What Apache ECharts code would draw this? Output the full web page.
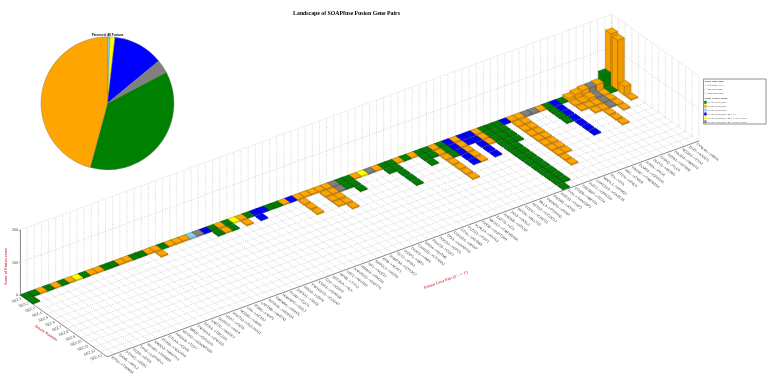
<!DOCTYPE html>
<html><head><meta charset="utf-8">
<style>html,body{margin:0;padding:0;background:#fff}#c{width:774px;height:383px}</style>
<script src="https://cdn.jsdelivr.net/npm/echarts@6/dist/echarts.min.js"></script>
</head><body><div id="c"></div>
<script>
const chartTitle = "Landscape of SOAPfuse Fusion Gene Pairs";
const pieTitle = "Percent of All Fusions";
const classColors = ["#008000","#FFA500","#87CEEB","#0000FF","#FFFF00","#808080"];
const classNames = ["SV:SEZ;SJE;SJL","SV:SEZ;SJR;SJL","SV:SEZ;SJR;SPL","SV:SEZ;SJR;SJL:MAX3","SV:SEZ;SJR;SJL:MAX3:CUTOUT","SV:SEZ;SJR;SJL:MAX5:CUTOUT"];
const pieOrder = [2,4,3,5,0,1];
const pieValues = [0.6,1.2,12.2,3.3,36.9,45.8];
const filterTags = ["reference-GVI","one-overedge","both-overedge"];
const patientLabels = ["SEZ.1","SEZ.2","SEZ.3","SEZ.4","SEZ.5","SEZ.6","SEZ.7","SEZ.8","SEZ.9","SEZ.10","SEZ.11","SEZ.12","SEZ.13"];
const scoreTicks = [0,100,200];
const G=0,O=1,S=2,B=3,Y=4,A=5;
const geneClass = [G,G,O,G,O,G,O,Y,G,O,O,G,G,O,O,G,G,O,O,G,O,O,O,S,A,
  B,G,O,G,Y,O,G,B,B,G,G,O,B,O,O,O,O,O,A,G,G,O,Y,A,O,
  G,G,O,G,O,G,G,O,G,B,O,B,B,O,G,G,G,B,O,O,A,A,O,G,B,G,O,O,O,A,O,G,O];
const f=3;
const geneScores = [[f,f],[f],[f],[f],[f],[f],[f],[f],[f],[f],[f],[f],[f],[f],[f],[f],[f],[f],[f,f],[f],[f],[f],[f],[f],[f],
  [f],[f,f],[f,f],[f,f],[f],[f,f],[f],[f,f],[f],[f],[f],[f],[f],[f,f,f,f],[f],[f],[f,f,f,f],[f,f,f,f,f],[f,f],[f,f],[f,f,f],[f],[f],[f],[f],
  [f,f],[f,f,f,f,f],[f],[f],[f],[f,f,f],[f,f],[f,f,f,f,f,f,f],[f,f,f],[f,f,f,f,f],[f,f,f,f,f],[f,f],[f,f,f,f,f],[f,f,f],
  [f,f,f,f,f,f,f,f,f,f,f,f,f],[f,f,f,f,f,f,f,f,f,f,f,f],[f,f,f,f],[f],[f,f,f,f,f,f,f,f,f,f],[f,f,f,f,f,f,f,f],[f],[f],[f],[f,f,f,f],[f,f,f,f,f,f,f],[f],
  [9,f,f],[14,f,f,f],[18,9,f,f,f,f,f],[18,f,f,f],[20,f,f,f,f],[42,f],[160,155,27,f]];
const genePairs = ["RPS6-->TRIM33","TIAM1-->BCL2","PTPRC-->ZEB1","CD28-->ICOS","TP63-->LEPREL1","NFKB2-->TRIM39","SMAD3-->MAP2K1","ATP5B-->NDUFA4","CTLA4-->CD28","ARID1B-->TCF7",
"MYO1F-->ADAMTS10","MBD2-->GPR125","TNFSF14-->ZNF101","CCR4-->TBC1D5","KMT2C-->BAGE2","DUSP22-->IRF4","USP7-->CIITA","RNF213-->SLC26A11","NCOR1-->UBR5","FAS-->ACTA2",
"ITGB1-->NRP1","LAPTM5-->MATN1","SPTAN1-->WDR34","TMEM66-->ASH2L","HNRNPC-->RALY","PKM2-->CD74","ZNF521-->SS18","RHOA-->USP4","TNFRSF21-->CD2AP","STAT3-->STAT5B",
"CD2-->IGSF3","SEC31A-->ALK","NPM1-->TYK2","VAV1-->MYO1F","ANKRD11-->ZNF276","RBM14-->PACS1","NF1-->SUZ12","SIPA1L1-->RGS6","ATM-->ACAT1","DNMT3A-->GTF3C2",
"TET2-->PPA2","FOXP1-->MITF","TRAF3-->AMN","CARD11-->CTNNA1","BRD4-->NUTM1","PRKCB-->CD22","PDCD1-->GPC1","TP53-->KIAA0753","CDKN2A-->MTAP","ETV6-->ACSM3",
"PLCG1-->TOP1","KLHL14-->ASXL3","CHD8-->SUPT16H","MED12-->TMEM255A","ZAP70-->LCK","ARID5B-->RTKN2","JAK3-->INSL3","BCOR-->MLLT10","CD247-->CREG1","SETD2-->CCDC12",
"MLL3-->PTPRN2","TNFAIP3-->PERP","PRDM1-->ATG5","SOCS1-->TNP2","FYN-->TRAF3IP2","EP300-->MRTFA","CREBBP-->TCF4","IKZF2-->SPAG16","LRRC16A-->CASC15","MAPK1-->PPM1F",
"ITK-->SYK","PTEN-->RNLS","RB1-->ITM2B","FBXW7-->TMEM154","ELMO1-->GPR141","RARA-->PKIA","DLEU1-->BCMS","GNAQ-->TLE4","SATB1-->KCNH8","PIK3R1-->MAST4",
"NCOA3-->EYA2","ZFAT-->ASAP1","TXNL4A-->RBFA"];

const cellColumn=[],cellRow=[],cellScore=[];
for(let c=geneScores.length-1;c>=0;c--) geneScores[c].forEach((s,r)=>{cellColumn.push(c);cellRow.push(r);cellScore.push(s);});

const nC=geneClass.length,nR=patientLabels.length;
const X0=20,Y0=295,cdx=7.13,cdy=-2.6,rdx=6.7,rdy=4.75;
const chart=echarts.init(document.getElementById('c'),null,{renderer:'canvas'});
const zOff=z=>chart.convertToPixel({yAxisIndex:1},0)-chart.convertToPixel({yAxisIndex:1},z);
function proj(api,c,r,z){
  const p=api.coord([c,r]),u=p[0]-X0,v=p[1]-Y0;
  return [X0+u+v*rdx/rdy, Y0+v+u*cdy/cdx-(z?zOff(z):0)];
}
function dark(hex,k){const n=parseInt(hex.slice(1),16);return 'rgb('+[(n>>16)&255,(n>>8)&255,n&255].map(v=>Math.round(v*k)).join(',')+')';}
const dash={stroke:'#c4c4c4',lineWidth:0.6,lineDash:[1.2,1.2]};
function seg(a,b,st){return {type:'line',shape:{x1:a[0],y1:a[1],x2:b[0],y2:b[1]},style:st,silent:true};}
function renderFrame(params,api){
  const ch=[];
  for(let c=0;c<=nC;c++){
    ch.push(seg(proj(api,c,0,0),proj(api,c,nR,0),dash));
    ch.push(seg(proj(api,c,0,0),proj(api,c,0,200),dash));
  }
  for(let r=0;r<=nR;r++){
    ch.push(seg(proj(api,0,r,0),proj(api,nC,r,0),dash));
    ch.push(seg(proj(api,nC,r,0),proj(api,nC,r,200),dash));
  }
  [100,200].forEach(z=>{
    ch.push(seg(proj(api,0,0,z),proj(api,nC,0,z),dash));
    ch.push(seg(proj(api,nC,0,z),proj(api,nC,nR,z),dash));
  });
  const ax={stroke:'#777',lineWidth:0.8};
  ch.push(seg(proj(api,0,0,0),proj(api,0,nR,0),ax));
  ch.push(seg(proj(api,0,nR,0),proj(api,nC,nR,0),ax));
  genePairs.forEach((t,c)=>{const p=proj(api,c+0.5,nR,0);
    ch.push({type:'text',x:p[0]+1,y:p[1]+1.5,rotation:-37*Math.PI/180,style:{text:t,fontSize:3.6,fill:'#444',fontFamily:'Liberation Sans',align:'left',verticalAlign:'middle'},silent:true});});
  patientLabels.forEach((t,r)=>{const p=proj(api,0,r+0.5,0);
    ch.push({type:'text',x:p[0]-2,y:p[1]+1,rotation:20*Math.PI/180,style:{text:t,fontSize:3.6,fill:'#444',fontFamily:'Liberation Sans',align:'right',verticalAlign:'middle'},silent:true});});
  return {type:'group',children:ch};
}
function renderCell(params,api){
  const c=api.value(0),r=api.value(1),z=api.value(2),col=classColors[geneClass[c]];
  const a=0.03,b=0.97,ra=0.1,rb=0.9;
  const A0=proj(api,c+a,r+ra,0),B0=proj(api,c+b,r+ra,0),C0=proj(api,c+b,r+rb,0),D0=proj(api,c+a,r+rb,0);
  const h=zOff(z),up=p=>[p[0],p[1]-h];
  const line=dark(col,0.62),sw=0.5;
  const poly=(pts,fill)=>({type:'polygon',shape:{points:pts},style:{fill:fill,stroke:line,lineWidth:sw}});
  return {type:'group',children:[
    poly([A0,D0,up(D0),up(A0)],dark(col,0.97)),
    poly([D0,C0,up(C0),up(D0)],dark(col,0.93)),
    poly([up(A0),up(B0),up(C0),up(D0)],col)
  ]};
}
const legendEls=[];
legendEls.push({type:'rect',shape:{x:703.5,y:79,width:62.5,height:45},style:{fill:'#fff',stroke:'#777',lineWidth:0.8}});
const lt=(t,y,b)=>({type:'text',x:b?704.5:707.5,y:y,style:{text:t,fontSize:2.8,fontWeight:b?'bold':'normal',fill:'#333',fontFamily:'Liberation Serif',verticalAlign:'middle'}});
legendEls.push(lt("Filter Tags Sent:",81.5,true));
filterTags.forEach((t,i)=>{legendEls.push(lt(t,85.2+i*4,false));
  legendEls.push({type:'rect',shape:{x:704.6,y:84.7+i*4,width:0.8,height:1},style:{fill:'#e08080'}});});
legendEls.push(lt("Filter FIRE Labels:",98,true));
classNames.forEach((t,i)=>{const y=102.3+i*3.9;legendEls.push(lt(t,y,false));
  legendEls.push({type:'rect',shape:{x:704.2,y:y-1.5,width:2.4,height:3},style:{fill:classColors[i]}});});
const axisRed='#d2404a',sf='Liberation Serif';
const rotText=(t,x,y,deg)=>({type:'text',x:x,y:y,rotation:deg*Math.PI/180,style:{text:t,fontSize:4,fontWeight:'bold',fill:axisRed,fontFamily:sf,align:'center',verticalAlign:'middle'}});
const option={
  animation:false,backgroundColor:'#fff',
  title:[
    {text:chartTitle,left:341.5,textAlign:'center',top:5.5,textStyle:{fontFamily:sf,fontSize:5.8,fontWeight:'bold',color:'#000'}},
    {text:pieTitle,left:107.5,textAlign:'center',top:33.5,padding:0,textStyle:{fontFamily:'Liberation Sans',fontSize:3,fontWeight:'bold',color:'#000'}}
  ],
  grid:[
    {left:X0,top:Y0,width:nC*cdx,height:nR*rdy,show:false},
    {left:X0,top:230,width:1,height:65,show:false}
  ],
  xAxis:[
    {gridIndex:0,type:'value',min:0,max:nC,show:false},
    {gridIndex:1,type:'value',min:0,max:1,show:false}
  ],
  yAxis:[
    {gridIndex:0,type:'value',min:0,max:nR,inverse:true,show:false},
    {gridIndex:1,type:'value',min:0,max:200,interval:100,position:'left',
     axisLine:{show:true,lineStyle:{color:'#666',width:0.8}},axisTick:{show:true,length:1.5,lineStyle:{color:'#666',width:0.5}},
     axisLabel:{fontSize:3.6,color:'#444',margin:2,fontFamily:'Liberation Sans',customValues:scoreTicks},splitLine:{show:false},
     name:'Score of Fusion event',nameLocation:'middle',nameRotate:90,nameGap:11,
     nameTextStyle:{fontSize:4,fontWeight:'bold',color:axisRed,fontFamily:sf,padding:[0,0,0,-8]}}
  ],
  series:[
    {type:'custom',coordinateSystem:'cartesian2d',xAxisIndex:0,yAxisIndex:0,clip:false,silent:true,data:[[0,0]],renderItem:renderFrame,z:1},
    {type:'custom',coordinateSystem:'cartesian2d',xAxisIndex:0,yAxisIndex:0,clip:false,silent:true,
     encode:{x:0,y:1},data:cellColumn.map((c,i)=>[c,cellRow[i],cellScore[i]]),renderItem:renderCell,z:3},
    {type:'pie',center:[107.5,103.3],radius:[0,66.5],startAngle:90,clockwise:true,silent:true,label:{show:false},labelLine:{show:false},
     itemStyle:{borderColor:'#777',borderWidth:0.4},
     data:pieValues.map((v,i)=>({value:v,name:classNames[pieOrder[i]],itemStyle:{color:classColors[pieOrder[i]]}})),z:4}
  ],
  graphic:[
    {type:'group',silent:true,children:legendEls,z:10},
    rotText("Fusion Gene Pair (5' --> 3')",446,280,20),
    rotText("Sezary Patients",46,333,-34)
  ]
};
chart.setOption(option);
</script></body></html>
